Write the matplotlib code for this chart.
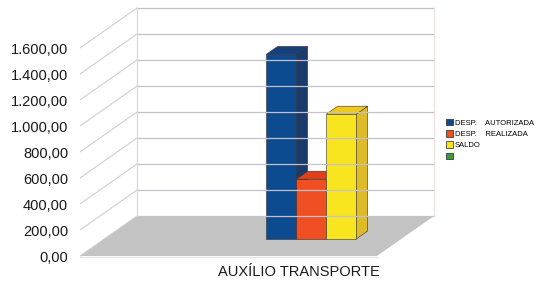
import matplotlib
matplotlib.use("Agg")
import matplotlib.pyplot as plt
from matplotlib.patches import Polygon, Patch
from matplotlib.ticker import FuncFormatter

plt.rcParams['font.family'] = ['Liberation Sans', 'DejaVu Sans']

# data
category = "AUXÍLIO TRANSPORTE"
series = ["DESP.    AUTORIZADA", "DESP.    REALIZADA", "SALDO", ""]
values = [1420, 460, 960, None]
face_colors = ["#0d4b91", "#f04e23", "#f9e51f", "#3a9a3a"]
top_colors = ["#15407a", "#e0401c", "#f0c81a", "#3a9a3a"]
side_colors = ["#1b3b6c", "#c63e1c", "#dfbb28", "#3a9a3a"]
y_ticks = [0, 200, 400, 600, 800, 1000, 1200, 1400, 1600]

# geometry of the pseudo-3D box (x in pixels, y in value units)
PX_PER_UNIT = 0.13
DX, DY = 57, 40 / PX_PER_UNIT          # full depth offset
FLOOR_X0, FLOOR_X1 = 80, 377
BAR_X0, BAR_W = 242, 30
BAR_D0, BAR_D1 = 0.425, 0.625


def proj(x, v, d):
    return (x + d * DX, v + d * DY)


fig = plt.figure(figsize=(5.37, 2.86), dpi=100)
ax = fig.add_axes([80 / 537, 0, 1 - 80 / 537, 1])
ax.set_xlim(80, 537)
ax.set_ylim(-30 / PX_PER_UNIT, 256 / PX_PER_UNIT)

# walls and grid
grid_c = "#c4c2c8"
for v in y_ticks:
    a, b = proj(FLOOR_X0, v, 0), proj(FLOOR_X0, v, 1)
    ax.plot([a[0], b[0]], [a[1], b[1]], color="#cfcfcf", lw=0.8)
    c = proj(FLOOR_X1, v, 1)
    ax.plot([b[0], c[0]], [b[1], c[1]], color=grid_c, lw=0.9)
top = y_ticks[-1]
ax.plot([FLOOR_X0 + DX] * 2, [DY, top + DY], color="#d6d6d6", lw=0.8)
ax.plot([FLOOR_X1 + DX] * 2, [DY, top + DY], color="#f2dcdc", lw=0.8)

# floor
floor = [proj(FLOOR_X0, 0, 0), proj(FLOOR_X1, 0, 0),
         proj(FLOOR_X1, 0, 1), proj(FLOOR_X0, 0, 1)]
ax.add_patch(Polygon(floor, closed=True, facecolor="#c3c3c3", edgecolor="none"))
ax.plot([FLOOR_X0, FLOOR_X1], [-6, -6], color="#e6e6e6", lw=1)

# bars
for i, v in enumerate(values):
    if v is None:
        continue
    x0 = BAR_X0 + i * BAR_W
    x1 = x0 + BAR_W
    side = [proj(x1, 0, BAR_D0), proj(x1, 0, BAR_D1), proj(x1, v, BAR_D1), proj(x1, v, BAR_D0)]
    topf = [proj(x0, v, BAR_D0), proj(x1, v, BAR_D0), proj(x1, v, BAR_D1), proj(x0, v, BAR_D1)]
    front = [proj(x0, 0, BAR_D0), proj(x1, 0, BAR_D0), proj(x1, v, BAR_D0), proj(x0, v, BAR_D0)]
    ax.add_patch(Polygon(side, closed=True, facecolor=side_colors[i], edgecolor="#333333", lw=0.4))
    ax.add_patch(Polygon(topf, closed=True, facecolor=top_colors[i], edgecolor="#333333", lw=0.4))
    ax.add_patch(Polygon(front, closed=True, facecolor=face_colors[i], edgecolor="#333333", lw=0.4))

# axis text
ax.set_yticks(y_ticks)
ax.yaxis.set_major_formatter(FuncFormatter(
    lambda v, p: f"{v:,.2f}".replace(",", "X").replace(".", ",").replace("X", ".")))
ax.tick_params(axis="y", length=0, pad=8.5, labelsize=10.5, labelcolor="#1a1a1a")
ax.set_xticks([])
for s in ax.spines.values():
    s.set_visible(False)
ax.patch.set_alpha(0)

ax.text(299, -16 / PX_PER_UNIT, category, ha="center", va="center",
        fontsize=10.5, color="#1a1a1a")

handles = [Patch(facecolor=c, edgecolor="#222222", lw=0.5) for c in face_colors]
fig.legend(handles, series, loc="upper left", bbox_to_anchor=(446 / 537, 1 - 119 / 286),
           frameon=False, fontsize=5.5, handlelength=0.9, handleheight=0.9,
           handletextpad=0.3, labelspacing=0.45, borderpad=0, borderaxespad=0)

fig.savefig("out.png", dpi=100)
